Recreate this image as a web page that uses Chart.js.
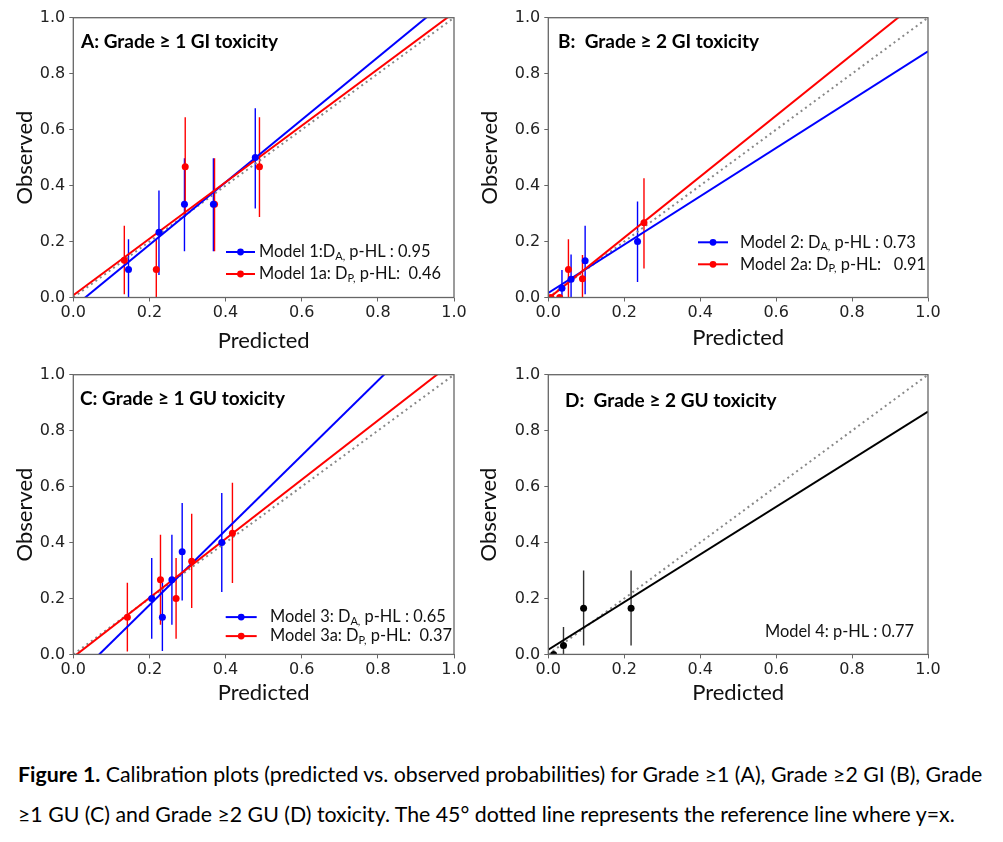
<!DOCTYPE html>
<html>
<head>
<meta charset="utf-8">
<script src="https://cdn.jsdelivr.net/npm/chart.js@4.4.1/dist/chart.umd.min.js"></script>
<style>
  html, body { margin: 0; padding: 0; background: #fff; }
  body { width: 1003px; height: 842px; position: relative; overflow: hidden; }
  canvas.panel { position: absolute; }
  .caption { position: absolute; left: 18px; font-family: Lato, sans-serif; font-size: 21.3px; color: #000; white-space: nowrap; line-height: 26px; }
</style>
</head>
<body>
<canvas id="chartA" class="panel"></canvas>
<canvas id="chartB" class="panel"></canvas>
<canvas id="chartC" class="panel"></canvas>
<canvas id="chartD" class="panel"></canvas>
<div class="caption" style="top:761px"><b>Figure 1.</b> Calibration plots (predicted vs. observed probabilities) for Grade ≥1 (A), Grade ≥2 GI (B), Grade</div>
<div class="caption" style="top:801px">≥1 GU (C) and Grade ≥2 GU (D) toxicity. The 45° dotted line represents the reference line where y=x.</div>
<script>
const tickValues = [0, 0.2, 0.4, 0.6, 0.8, 1.0];

// A: Grade >= 1 GI toxicity, model 1 (D_A) and model 1a (D_P)
const predA1  = [0.145, 0.225, 0.292, 0.368, 0.478];
const obsA1   = [0.100, 0.233, 0.333, 0.333, 0.500];
const lowA1   = [0.000, 0.080, 0.165, 0.165, 0.318];
const highA1  = [0.208, 0.382, 0.498, 0.498, 0.676];
const predA1a = [0.134, 0.218, 0.294, 0.371, 0.489];
const obsA1a  = [0.133, 0.100, 0.467, 0.333, 0.467];
const lowA1a  = [0.012, 0.000, 0.288, 0.165, 0.288];
const highA1a = [0.256, 0.208, 0.644, 0.498, 0.644];
const fitA1   = [-0.035, 1.117];   // intercept, slope
const fitA1a  = [0.008, 1.010];

// B: Grade >= 2 GI toxicity
const predB2  = [0.036, 0.060, 0.097, 0.235];
const obsB2   = [0.033, 0.065, 0.131, 0.200];
const lowB2   = [0.000, 0.000, 0.012, 0.055];
const highB2  = [0.098, 0.154, 0.256, 0.343];
const predB2a = [0.007, 0.030, 0.053, 0.090, 0.252];
const obsB2a  = [0.000, 0.000, 0.100, 0.067, 0.267];
const lowB2a  = [0.000, 0.000, 0.000, 0.000, 0.104];
const highB2a = [0.000, 0.000, 0.208, 0.152, 0.426];
const fitB2   = [0.016, 0.864];
const fitB2a  = [-0.004, 1.090];

// C: Grade >= 1 GU toxicity
const predC3  = [0.206, 0.234, 0.259, 0.286, 0.390];
const obsC3   = [0.200, 0.133, 0.267, 0.367, 0.400];
const lowC3   = [0.056, 0.012, 0.106, 0.193, 0.223];
const highC3  = [0.345, 0.256, 0.428, 0.541, 0.577];
const predC3a = [0.142, 0.229, 0.270, 0.311, 0.418];
const obsC3a  = [0.133, 0.267, 0.200, 0.333, 0.433];
const lowC3a  = [0.010, 0.106, 0.056, 0.166, 0.255];
const highC3a = [0.256, 0.428, 0.345, 0.503, 0.614];
const fitC3   = [-0.091, 1.337];
const fitC3a  = [-0.0095, 1.057];

// D: Grade >= 2 GU toxicity
const predD4  = [0.014, 0.040, 0.093, 0.218];
const obsD4   = [0.000, 0.032, 0.165, 0.165];
const lowD4   = [0.000, 0.000, 0.032, 0.032];
const highD4  = [0.000, 0.098, 0.300, 0.300];
const fitD4   = [0.017, 0.851];

const Y_W = 73.3, PAD_T = 17.7, CW = 500, CH = 380;

const panels = [
  { id: 'chartA', area: [73.3, 17.7, 454, 297.5], obsX: 25, predY: 341,
    title: 'A: Grade ≥ 1 GI toxicity', titlePos: [7.7, 24],
    legLine: [152.7, 181.7], legText: 185.7,
    series: [
      { pred: predA1, obs: obsA1, low: lowA1, high: highA1, fit: fitA1, color: '#0000ff', label: ['Model 1:D', 'A,', ' p-HL : 0.95'], dy: 234.3 },
      { pred: predA1a, obs: obsA1a, low: lowA1a, high: highA1a, fit: fitA1a, color: '#ff0000', label: ['Model 1a: D', 'P,', ' p-HL:  0.46'], dy: 256.3 }
    ] },
  { id: 'chartB', area: [548.3, 17.7, 928, 297.5], obsX: 490, predY: 338,
    title: 'B:  Grade ≥ 2 GI toxicity', titlePos: [9.7, 24],
    legLine: [149.7, 179.7], legText: 191.7,
    series: [
      { pred: predB2, obs: obsB2, low: lowB2, high: highB2, fit: fitB2, color: '#0000ff', label: ['Model 2: D', 'A,', ' p-HL : 0.73'], dy: 224.6 },
      { pred: predB2a, obs: obsB2a, low: lowB2a, high: highB2a, fit: fitB2a, color: '#ff0000', label: ['Model 2a: D', 'P,', ' p-HL:   0.91'], dy: 246.6 }
    ] },
  { id: 'chartC', area: [73.3, 374.3, 454, 654], obsX: 25, predY: 693,
    title: 'C: Grade ≥ 1 GU toxicity', titlePos: [6.7, 23.7],
    legLine: [152.4, 183.4], legText: 196.7,
    series: [
      { pred: predC3, obs: obsC3, low: lowC3, high: highC3, fit: fitC3, color: '#0000ff', label: ['Model 3: D', 'A,', ' p-HL : 0.65'], dy: 242.4 },
      { pred: predC3a, obs: obsC3a, low: lowC3a, high: highC3a, fit: fitC3a, color: '#ff0000', label: ['Model 3a: D', 'P,', ' p-HL:  0.37'], dy: 261.4 }
    ] },
  { id: 'chartD', area: [548.3, 374.3, 928, 654], obsX: 489, predY: 693,
    title: 'D:  Grade ≥ 2 GU toxicity', titlePos: [16.7, 25.7],
    legLine: null, legText: 216.7,
    series: [
      { pred: predD4, obs: obsD4, low: lowD4, high: highD4, fit: fitD4, color: '#000000', barColor: '#333333', label: ['Model 4: p-HL : 0.77', '', ''], dy: 256.7 }
    ] }
];

function pts(xs, ys) { return xs.map((v, i) => ({ x: v, y: ys[i] })); }
function fitLine(f) {
  const ends = [tickValues[0], tickValues[tickValues.length - 1]];
  return ends.map(v => ({ x: v, y: f[0] + f[1] * v }));
}

function decor(p) {
  return {
    id: 'decor',
    beforeDatasetsDraw(chart) {
      const { ctx, chartArea: a, scales: { x, y } } = chart;
      ctx.save();
      ctx.beginPath();
      ctx.rect(a.left, a.top, a.right - a.left, a.bottom - a.top);
      ctx.clip();
      chart.data.datasets.forEach(ds => {
        if (!ds.errLow) return;
        ctx.strokeStyle = ds.barColor;
        ctx.lineWidth = 1.4;
        ds.data.forEach((pt, i) => {
          const lo = ds.errLow[i], hi = ds.errHigh[i];
          if (hi <= lo) return;
          const px = x.getPixelForValue(pt.x);
          ctx.beginPath();
          ctx.moveTo(px, y.getPixelForValue(lo));
          ctx.lineTo(px, y.getPixelForValue(hi));
          ctx.stroke();
        });
      });
      ctx.restore();
    },
    afterDatasetsDraw(chart) {
      const { ctx, chartArea: a } = chart;
      ctx.save();
      // frame
      ctx.strokeStyle = '#666';
      ctx.lineWidth = 1.3;
      ctx.strokeRect(a.left, a.top, a.right - a.left, a.bottom - a.top);
      // panel title
      ctx.fillStyle = '#000';
      ctx.font = 'bold 19px Lato';
      ctx.textBaseline = 'middle';
      ctx.fillText(p.title, a.left + p.titlePos[0], a.top + p.titlePos[1]);
      // legend
      p.series.forEach(s => {
        const yy = a.top + s.dy;
        if (p.legLine) {
          const x0 = a.left + p.legLine[0], x1 = a.left + p.legLine[1];
          ctx.strokeStyle = s.color;
          ctx.lineWidth = 2;
          ctx.beginPath(); ctx.moveTo(x0, yy); ctx.lineTo(x1, yy); ctx.stroke();
          ctx.fillStyle = s.color;
          ctx.beginPath(); ctx.arc((x0 + x1) / 2, yy, 3.4, 0, Math.PI * 2); ctx.fill();
        }
        let tx = a.left + p.legText;
        ctx.fillStyle = '#111';
        ctx.font = '16.4px Lato';
        ctx.fillText(s.label[0], tx, yy);
        tx += ctx.measureText(s.label[0]).width;
        if (s.label[1]) {
          ctx.font = '11px Lato';
          ctx.fillText(s.label[1], tx, yy + 4.5);
          tx += ctx.measureText(s.label[1]).width;
        }
        ctx.font = '16.4px Lato';
        ctx.fillText(s.label[2], tx, yy);
      });
      ctx.restore();
    }
  };
}

function makePanel(p) {
  const cv = document.getElementById(p.id);
  const left = p.area[0] - Y_W, top = p.area[1] - PAD_T;
  cv.width = CW; cv.height = CH;
  cv.style.left = left + 'px'; cv.style.top = top + 'px';
  cv.style.width = CW + 'px'; cv.style.height = CH + 'px';
  const xh = CH - (p.area[3] - top);
  const padR = CW - (p.area[2] - left);
  const yTitlePad = p.obsX - left - 13.2;
  const xTitlePad = (top + CH) - p.predY - 13.2;

  const datasets = [];
  p.series.forEach(s => {
    datasets.push({
      data: pts(s.pred, s.obs), showLine: false,
      pointRadius: 3.5, pointHoverRadius: 3.5, pointBackgroundColor: s.color, pointBorderWidth: 0,
      errLow: s.low, errHigh: s.high, barColor: s.barColor || s.color,
      clip: 0, order: 1
    });
  });
  p.series.slice().reverse().forEach((s, k) => {
    datasets.push({
      data: fitLine(s.fit), showLine: true, borderColor: s.color, borderWidth: 2,
      pointRadius: 0, clip: 0, order: 2 + k
    });
  });
  datasets.push({
    data: pts([tickValues[0], tickValues[5]], [tickValues[0], tickValues[5]]),
    showLine: true, borderColor: '#888', borderWidth: 2, borderDash: [2, 3.5],
    pointRadius: 0, clip: 0, order: 10
  });

  const tickFont = { family: 'DejaVu Sans', size: 16 };
  const titleFont = { family: 'Lato', size: 22 };
  new Chart(cv, {
    type: 'scatter',
    data: { datasets },
    options: {
      responsive: false,
      animation: false,
      events: [],
      layout: { padding: { left: 0, top: PAD_T, right: padR, bottom: 0 } },
      plugins: { legend: { display: false }, tooltip: { enabled: false } },
      scales: {
        x: {
          type: 'linear', min: 0, max: 1,
          afterBuildTicks: s => { s.ticks = tickValues.map(v => ({ value: v })); },
          afterFit: s => { s.height = xh; },
          ticks: { callback: v => v.toFixed(1), font: tickFont, color: '#222', padding: 2, maxRotation: 0, autoSkip: false },
          grid: { drawOnChartArea: false, tickLength: 4, color: '#666' },
          border: { display: false },
          title: { display: true, text: 'Predicted', font: titleFont, color: '#111', padding: { top: 0, bottom: xTitlePad } }
        },
        y: {
          type: 'linear', min: 0, max: 1,
          afterBuildTicks: s => { s.ticks = tickValues.map(v => ({ value: v })); },
          afterFit: s => { s.width = Y_W; },
          ticks: { callback: v => v.toFixed(1), font: tickFont, color: '#222', padding: 4, autoSkip: false },
          grid: { drawOnChartArea: false, tickLength: 4, color: '#666' },
          border: { display: false },
          title: { display: true, text: 'Observed', font: titleFont, color: '#111', padding: { top: yTitlePad, bottom: 0 } }
        }
      }
    },
    plugins: [decor(p)]
  });
}

panels.forEach(makePanel);
</script>
</body>
</html>
